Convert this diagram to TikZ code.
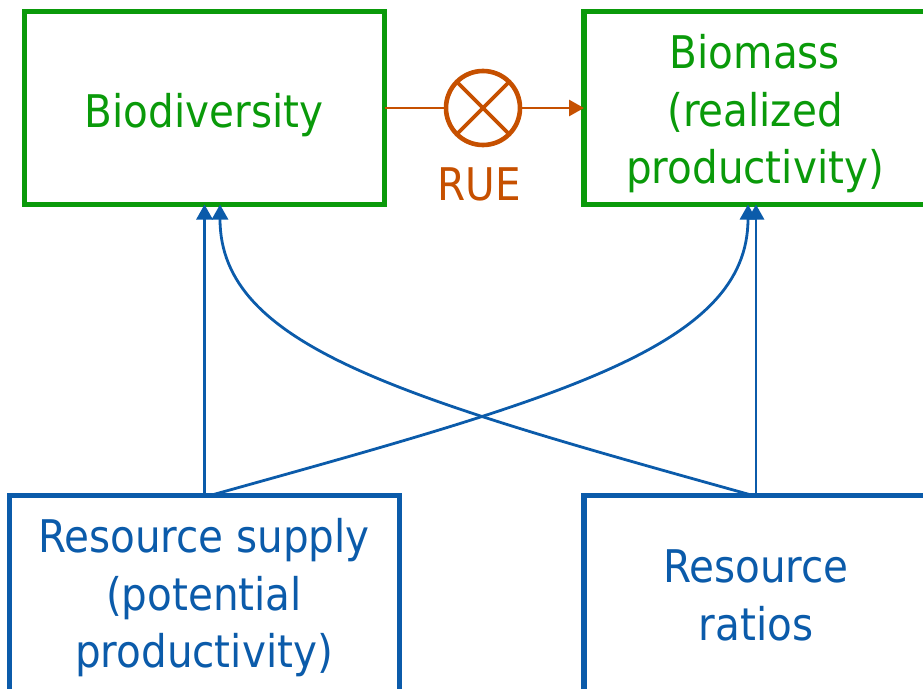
\documentclass[tikz,border=0pt]{standalone}
\usepackage{fontspec}
\setmainfont{DejaVu Sans Condensed}
\usetikzlibrary{arrows.meta}
\definecolor{bgreen}{HTML}{0A9A0A}
\definecolor{rblue}{HTML}{0B5BAA}
\definecolor{rorange}{HTML}{C65000}
\tikzset{
  every node/.style={inner sep=0pt, outer sep=0pt},
  greenbox/.style={draw=bgreen, line width=5.2pt, rectangle},
  bluebox/.style={draw=rblue, line width=5.2pt, rectangle},
  gtext/.style={text=bgreen, anchor=base, font=\fontsize{45}{56}\selectfont},
  btext/.style={text=rblue, anchor=base, font=\fontsize{45}{56}\selectfont},
  otext/.style={text=rorange, anchor=base, font=\fontsize{45}{56}\selectfont},
  flow/.style={draw=rblue, line width=2.8pt, -{Triangle[width=16pt,length=15pt]}},
  rueline/.style={draw=rorange, line width=2.8pt},
}
\begin{document}
\begin{tikzpicture}[x=1pt, y=-1pt]
  \useasboundingbox (0,0) rectangle (923,688);
  \begin{scope}
    \clip (0,0) rectangle (923,688);
    % boxes
    \node[greenbox, minimum width=360pt, minimum height=193pt] (bio) at (204.5,108) {};
    \node[greenbox, minimum width=344pt, minimum height=193pt] (bms) at (756,108) {};
    \node[bluebox, minimum width=390pt, minimum height=196pt] (sup) at (204.5,593.5) {};
    \node[bluebox, minimum width=344pt, minimum height=196pt] (rat) at (756,593.5) {};
    % labels
    \node[gtext] (biot) at (204,127) {Biodiversity};
    \node[gtext] (bmsa) at (755,68) {Biomass};
    \node[gtext] (bmsb) at (755,126) {(realized};
    \node[gtext] (bmsc) at (755,183) {productivity)};
    \node[btext] (supa) at (204,552) {Resource supply};
    \node[btext] (supb) at (204,610) {(potential};
    \node[btext] (supc) at (204,667) {productivity)};
    \node[btext] (rata) at (756,582) {Resource};
    \node[btext] (ratb) at (756,640) {ratios};
    % RUE multiplier
    \node[circle, draw=rorange, line width=4.6pt, minimum size=74pt] (rue) at (483,108) {};
    \draw[rorange, line width=3.8pt] (rue.north west) -- (rue.south east);
    \draw[rorange, line width=3.8pt] (rue.north east) -- (rue.south west);
    \node[otext] (ruet) at (479,200) {RUE};
    \draw[rueline] (bio.east) -- (rue.west);
    \draw[rueline, -{Triangle[width=16pt,length=15pt]}] (rue.east) -- (bms.west);
    % resource effects
    \coordinate (supA) at ([xshift=5.5pt]sup.north);
    \coordinate (ratB) at ([xshift=-3pt]rat.north);
    \coordinate (bioB) at ([xshift=15.5pt]bio.south);
    \coordinate (bmsA) at ([xshift=-8pt]bms.south);
    \draw[flow] (sup.north) -- (bio.south);
    \draw[flow] (rat.north) -- (rat.north |- bms.south);
    \draw[flow] (ratB) .. controls (403,398) and (220,347) .. (bioB);
    \draw[flow] (supA) .. controls (560,398) and (748,347) .. (bmsA);
  \end{scope}
\end{tikzpicture}
\end{document}
